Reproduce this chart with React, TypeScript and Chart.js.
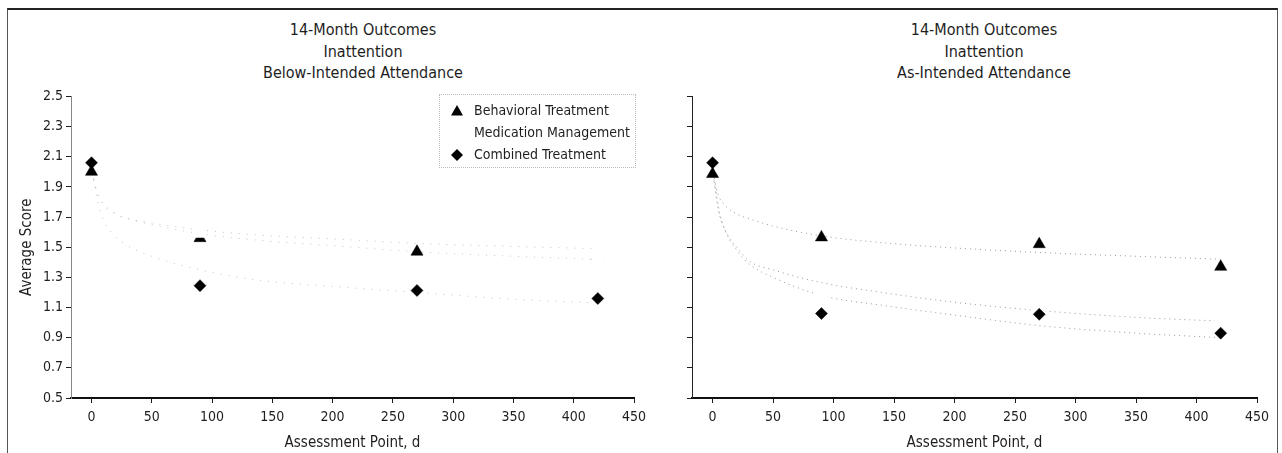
import React, { useEffect, useRef } from 'react';
import { Chart, registerables } from 'chart.js';

Chart.register(...registerables);

// Assessment points (days)
const X_POINTS = [0, 90, 270, 420];

// Below-Intended Attendance (left panel)
const BEHAVIORAL_BELOW = [2.0, 1.56, 1.47, 1.44];
const MEDICATION_BELOW = [2.1, 1.605, 1.575, 1.45];
const COMBINED_BELOW = [2.06, 1.245, 1.213, 1.16];

// As-Intended Attendance (right panel)
const BEHAVIORAL_AS = [1.985, 1.565, 1.52, 1.37];
const MEDICATION_AS = [2.12, 1.2, 1.11, 1.01];
const COMBINED_AS = [2.06, 1.06, 1.055, 0.93];

// Fitted trend curves
const TREND_X = [0, 5, 10, 20, 30, 50, 90, 140, 200, 270, 350, 420];
const TREND_BEH_BELOW = [2.0, 1.86, 1.79, 1.72, 1.69, 1.65, 1.59, 1.545, 1.51, 1.47, 1.44, 1.42];
const TREND_MED_BELOW = [2.0, 1.85, 1.78, 1.72, 1.69, 1.66, 1.615, 1.58, 1.555, 1.525, 1.505, 1.49];
const TREND_COMB_BELOW = [2.06, 1.8, 1.68, 1.57, 1.51, 1.44, 1.35, 1.28, 1.24, 1.2, 1.155, 1.13];
const TREND_BEH_AS = [1.98, 1.84, 1.78, 1.72, 1.69, 1.64, 1.575, 1.53, 1.495, 1.465, 1.44, 1.42];
const TREND_MED_AS = [2.0, 1.74, 1.62, 1.5, 1.41, 1.35, 1.265, 1.2, 1.135, 1.08, 1.035, 1.01];
const TREND_COMB_AS = [2.06, 1.76, 1.62, 1.48, 1.39, 1.3, 1.18, 1.115, 1.05, 0.98, 0.93, 0.9];

const X_TICKS = [0, 50, 100, 150, 200, 250, 300, 350, 400, 450];
const Y_TICKS = [0.5, 0.7, 0.9, 1.1, 1.3, 1.5, 1.7, 1.9, 2.1, 2.3, 2.5];
const X_MIN = -17;
const X_MAX = 450;
const Y_MIN = 0.5;
const Y_MAX = 2.5;

const SERIES_NAMES = ['Behavioral Treatment', 'Medication Management', 'Combined Treatment'];
const TITLE_LINES_BELOW = ['14-Month Outcomes', 'Inattention', 'Below-Intended Attendance'];
const TITLE_LINES_AS = ['14-Month Outcomes', 'Inattention', 'As-Intended Attendance'];
const X_TITLE = 'Assessment Point, d';
const Y_TITLE = 'Average Score';

const FONT = "'Liberation Sans Narrow', 'DejaVu Sans Condensed', 'Arial Narrow', sans-serif";
const INK = '#1e1e1e';

const pts = (xs: number[], ys: number[]) => xs.map((x, i) => ({ x, y: ys[i] }));

function trend(data: number[], order: number, color: string, dash: number[]) {
  return {
    type: 'line' as const,
    label: 'trend',
    data: pts(TREND_X, data),
    showLine: true,
    borderColor: color,
    borderWidth: 1,
    borderDash: dash,
    pointRadius: 0,
    cubicInterpolationMode: 'monotone' as const,
    fill: false,
    order,
  };
}

function buildConfig(
  beh: number[], med: number[], comb: number[],
  tb: number[], tm: number[], tc: number[],
  showYLabels: boolean, rightPad: number, yBorderDash: number[], yBorderColor: string,
  trendColor: string, trendDash: number[],
) {
  return {
    type: 'scatter' as const,
    data: {
      datasets: [
        {
          label: SERIES_NAMES[2], data: pts(X_POINTS, comb), pointStyle: 'rectRot',
          pointRadius: 6, backgroundColor: '#000', borderColor: '#000', borderWidth: 0.5, order: 0,
        },
        {
          label: SERIES_NAMES[1], data: pts(X_POINTS, med), pointStyle: 'rect',
          pointRadius: 9, backgroundColor: '#fff', borderColor: '#fff', borderWidth: 0, order: 1,
        },
        {
          label: SERIES_NAMES[0], data: pts(X_POINTS, beh), pointStyle: 'triangle',
          pointRadius: 7, backgroundColor: '#000', borderColor: '#000', borderWidth: 0.5, order: 2,
        },
        trend(tb, 3, trendColor, trendDash),
        trend(tm, 4, trendColor, trendDash),
        trend(tc, 5, trendColor, trendDash),
      ],
    },
    options: {
      animation: false,
      responsive: false,
      devicePixelRatio: 1,
      layout: { padding: { left: 0, right: rightPad, top: 9, bottom: 0 } },
      plugins: { legend: { display: false }, tooltip: { enabled: false }, title: { display: false } },
      scales: {
        x: {
          type: 'linear',
          min: X_MIN,
          max: X_MAX,
          afterBuildTicks: (scale: any) => { scale.ticks = X_TICKS.map((v) => ({ value: v })); },
          afterFit: (scale: any) => { scale.height = 55; scale.paddingRight = 0; },
          grid: { drawOnChartArea: false, drawTicks: true, tickLength: 5, color: INK },
          border: { display: true, color: '#111', width: 2 },
          ticks: { color: INK, font: { family: FONT, size: 14 }, padding: 6, maxRotation: 0, autoSkip: false },
          title: { display: true, text: X_TITLE, color: INK, font: { family: FONT, size: 15 }, padding: { top: 0, bottom: 1 } },
        },
        y: {
          type: 'linear',
          min: Y_MIN,
          max: Y_MAX,
          afterBuildTicks: (scale: any) => { scale.ticks = Y_TICKS.map((v) => ({ value: v })); },
          afterFit: (scale: any) => { scale.width = 71; },
          grid: { drawOnChartArea: false, drawTicks: true, tickLength: 5, color: INK },
          border: { display: true, color: yBorderColor, width: 1, dash: yBorderDash },
          ticks: {
            color: INK, font: { family: FONT, size: 14 }, padding: 3, autoSkip: false,
            callback: (v: any) => (showYLabels ? Number(v).toFixed(1) : ''),
          },
          title: { display: showYLabels, text: Y_TITLE, color: INK, font: { family: FONT, size: 15 }, padding: { top: 18, bottom: 0 } },
        },
      },
    },
  };
}

function Panel(props: { left: number; cfg: () => any }) {
  const ref = useRef<HTMLCanvasElement | null>(null);
  useEffect(() => {
    if (!ref.current) return;
    const chart = new Chart(ref.current, props.cfg());
    return () => chart.destroy();
  }, []);
  return (
    <canvas
      ref={ref}
      width={650}
      height={368}
      style={{ position: 'absolute', left: props.left, top: 85, width: 650, height: 368 }}
    />
  );
}

function Title(props: { lines: string[]; cx: number }) {
  return (
    <div
      style={{
        position: 'absolute', left: props.cx - 150, top: 19, width: 300, textAlign: 'center',
        fontFamily: FONT, fontSize: 16, lineHeight: '21.5px', color: INK,
      }}
    >
      {props.lines.map((l, i) => (<div key={i}>{l}</div>))}
    </div>
  );
}

function Legend() {
  const row = (y: number, marker: React.ReactNode, text: string) => (
    <div style={{ position: 'absolute', left: 0, top: y - 11, height: 22, width: 197 }}>
      <svg width={20} height={22} style={{ position: 'absolute', left: 7, top: 0 }}>{marker}</svg>
      <span style={{ position: 'absolute', left: 34, top: 2, fontFamily: FONT, fontSize: 14, color: INK, whiteSpace: 'nowrap' }}>{text}</span>
    </div>
  );
  return (
    <div
      style={{
        position: 'absolute', left: 439, top: 94, width: 197, height: 74,
        border: '1px dotted #bbb', boxSizing: 'border-box',
      }}
    >
      {row(16, <polygon points="10,5 16,15.5 4,15.5" fill="#000" />, SERIES_NAMES[0])}
      {row(38, null, SERIES_NAMES[1])}
      {row(60, <polygon points="10,5 16,11 10,17 4,11" fill="#000" />, SERIES_NAMES[2])}
    </div>
  );
}

export default function App() {
  return (
    <div style={{ position: 'absolute', left: 0, top: 0, width: 1282, height: 453, overflow: 'hidden', background: '#fff' }}>
      <div
        style={{
          position: 'absolute', left: 7, top: 8, width: 1271, height: 460, boxSizing: 'border-box',
          borderTop: '2px solid #222', borderLeft: '1px solid #555', borderRight: '1px solid #555',
        }}
      />
      <Title lines={TITLE_LINES_BELOW} cx={363} />
      <Title lines={TITLE_LINES_AS} cx={984} />
      <Panel
        left={0}
        cfg={() => buildConfig(BEHAVIORAL_BELOW, MEDICATION_BELOW, COMBINED_BELOW,
          TREND_BEH_BELOW, TREND_MED_BELOW, TREND_COMB_BELOW, true, 16, [2, 1], '#888',
          'rgba(150,150,150,0.55)', [1, 7])}
      />
      <Panel
        left={621}
        cfg={() => buildConfig(BEHAVIORAL_AS, MEDICATION_AS, COMBINED_AS,
          TREND_BEH_AS, TREND_MED_AS, TREND_COMB_AS, false, 14, [], '#222',
          'rgba(110,110,110,0.7)', [1, 4])}
      />
      <Legend />
    </div>
  );
}
